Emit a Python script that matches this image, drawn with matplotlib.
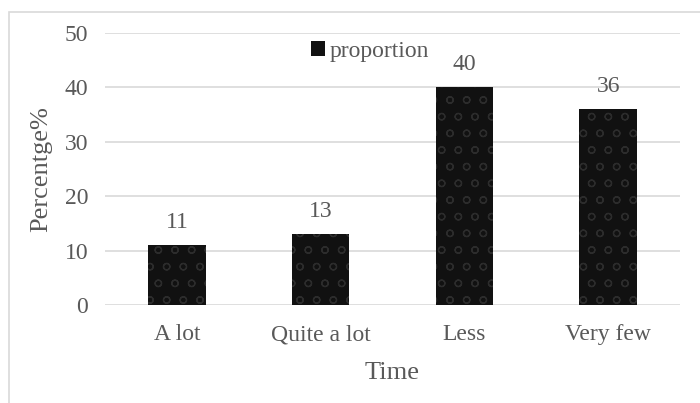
import matplotlib
matplotlib.use("Agg")
import matplotlib.pyplot as plt
from matplotlib.patches import Rectangle

categories = ["A lot", "Quite a lot", "Less", "Very few"]
proportion = [11, 13, 40, 36]
y_ticks = [0, 10, 20, 30, 40, 50]

plt.rcParams["font.family"] = ["Liberation Serif", "DejaVu Serif"]
plt.rcParams["hatch.linewidth"] = 0.9
text_color = "#595959"
grid_color = "#d9d9d9"

fig = plt.figure(figsize=(7.0, 4.03), dpi=100)
fig.patch.set_facecolor("white")

# outer chart frame
fig.patches.append(Rectangle((9 / 700, -0.05), 1.0, (403 - 12) / 403 + 0.05,
                             transform=fig.transFigure, fill=False,
                             edgecolor=grid_color, linewidth=1.2))

ax = fig.add_axes([105 / 700, (403 - 305) / 403, (680 - 105) / 700, (305 - 33) / 403])
x = range(len(categories))
bars = ax.bar(x, proportion, width=0.40, color="#111111", edgecolor="#2c2c2c",
              linewidth=0, hatch="o", label="proportion", zorder=3)

for xi, v in zip(x, proportion):
    ax.annotate(f"{v}", (xi, v), xytext=(0, 9), textcoords="offset points",
                ha="center", va="bottom", fontsize=17, color=text_color)

ax.set_xlim(-0.5, len(categories) - 0.5)
ax.set_ylim(0, 50)
ax.set_yticks(y_ticks)
ax.set_xticks(list(x))
ax.set_xticklabels(categories)
ax.tick_params(axis="both", length=0, labelsize=17, labelcolor=text_color)
ax.tick_params(axis="x", pad=14)
ax.tick_params(axis="y", pad=12)
ax.grid(axis="y", color=grid_color, linewidth=1.2, zorder=0)
for s in ax.spines.values():
    s.set_visible(False)
ax.set_xlabel("Time", fontsize=19, color=text_color, labelpad=12)
ax.set_ylabel("Percentge%", fontsize=19, color=text_color, labelpad=9)

leg = ax.legend(loc="upper left", bbox_to_anchor=((312 - 105) / 575 - 0.01, 0.987),
                frameon=False, fontsize=17, handlelength=0.6, handleheight=0.6,
                handletextpad=0.2, borderaxespad=0.0, borderpad=0.2)
for t in leg.get_texts():
    t.set_color(text_color)
for h in leg.legend_handles:
    h.set_hatch(None)
    h.set_edgecolor("#111111")

fig.savefig("out.png", dpi=100, facecolor="white")
